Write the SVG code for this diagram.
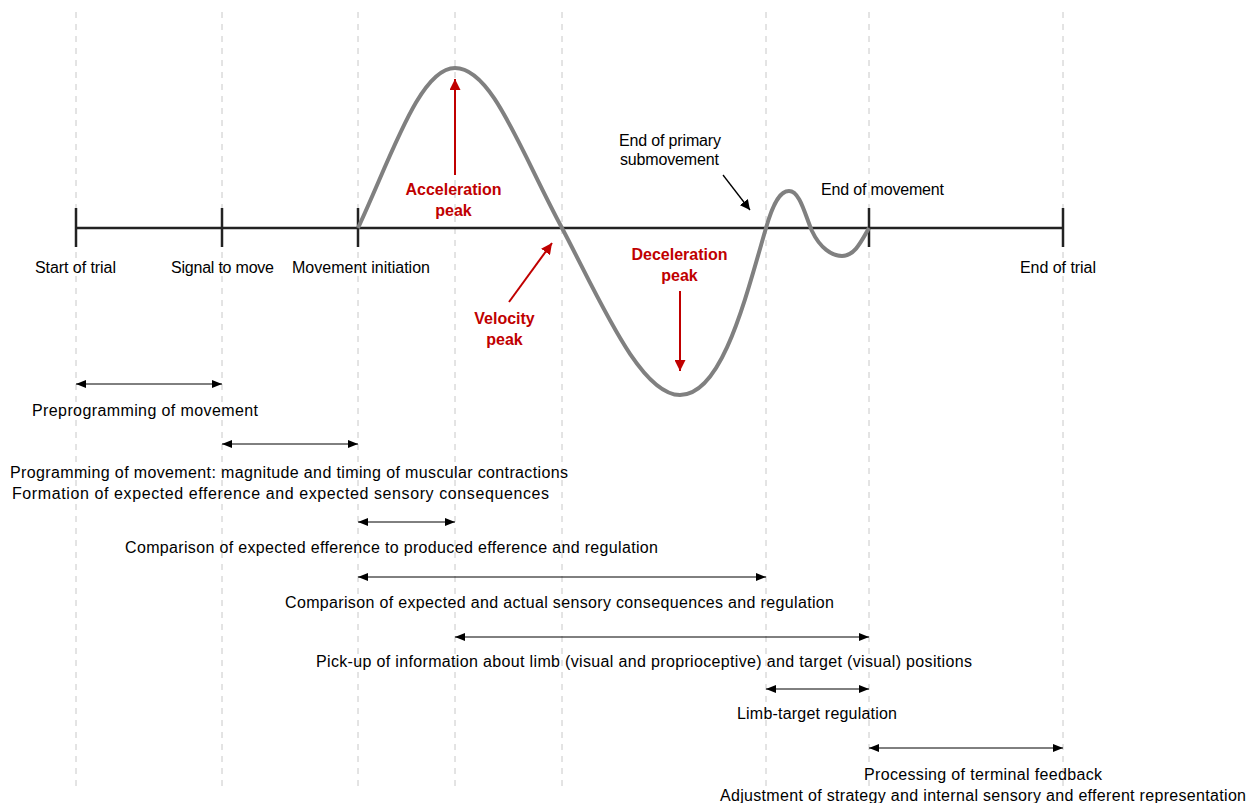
<svg xmlns="http://www.w3.org/2000/svg" width="1260" height="803" viewBox="0 0 1260 803">
<defs>
<marker id="ah" viewBox="0 0 10 10" refX="10" refY="5" markerWidth="10" markerHeight="10" markerUnits="userSpaceOnUse" orient="auto-start-reverse"><path d="M0,1 L10,5 L0,9 Z" fill="#000"/></marker>
<marker id="ar" viewBox="0 0 10 10" refX="10" refY="5" markerWidth="11" markerHeight="11" markerUnits="userSpaceOnUse" orient="auto"><path d="M0,0 L10,5 L0,10 Z" fill="#c00000"/></marker>
<marker id="ak" viewBox="0 0 10 10" refX="10" refY="5" markerWidth="10" markerHeight="10" markerUnits="userSpaceOnUse" orient="auto"><path d="M0,0 L10,5 L0,10 Z" fill="#000"/></marker>
</defs>
<style>
text{font-family:"Liberation Sans",Arial,sans-serif;font-size:16px;fill:#000;text-anchor:middle}
.red{fill:#c00000;font-weight:bold}
.grid{stroke:#c8c8c8;stroke-width:1;stroke-dasharray:6,6}
.range{stroke:#000;stroke-width:1;marker-start:url(#ah);marker-end:url(#ah)}
.tick{stroke:#222;stroke-width:2.5}
</style>
<rect width="1260" height="803" fill="#fff"/>
<g id="gridlines">
<line class="grid" x1="76" y1="12" x2="76" y2="790"/>
<line class="grid" x1="222" y1="12" x2="222" y2="790"/>
<line class="grid" x1="358" y1="12" x2="358" y2="790"/>
<line class="grid" x1="455" y1="12" x2="455" y2="790"/>
<line class="grid" x1="562" y1="12" x2="562" y2="790"/>
<line class="grid" x1="766" y1="12" x2="766" y2="790"/>
<line class="grid" x1="869" y1="12" x2="869" y2="790"/>
<line class="grid" x1="1063" y1="12" x2="1063" y2="790"/>
</g>
<g id="axis">
<line class="tick" x1="76" y1="228" x2="1063" y2="228"/>
<line class="tick" x1="76" y1="208" x2="76" y2="247"/>
<line class="tick" x1="222" y1="208" x2="222" y2="247"/>
<line class="tick" x1="358" y1="208" x2="358" y2="247"/>
<line class="tick" x1="869" y1="208" x2="869" y2="247"/>
<line class="tick" x1="1063" y1="208" x2="1063" y2="247"/>
<text x="75.5" y="273" textLength="81" lengthAdjust="spacing">Start of trial</text>
<text x="222.5" y="273" textLength="103" lengthAdjust="spacing">Signal to move</text>
<text x="361" y="273" textLength="138" lengthAdjust="spacing">Movement initiation</text>
<text x="1058" y="273" textLength="76" lengthAdjust="spacing">End of trial</text>
</g>
<g id="curve">
<path d="M358,228 C392,155 420,68 455,68 C492,68 520,150 562,228 C600,300 640,395 680,395 C722,395 745,300 766,228 C774,200 781,191 789,191 C800,191 805,215 812,231 C820,248 832,256 842,256 C855,256 862,240 869,228" fill="none" stroke="#808080" stroke-width="4"/>
</g>
<g id="annotations">
<line x1="455" y1="175" x2="455" y2="79" stroke="#c00000" stroke-width="2" marker-end="url(#ar)"/>
<text class="red" x="453.5" y="195">Acceleration</text>
<text class="red" x="453.5" y="216">peak</text>
<line x1="509" y1="302" x2="552" y2="243" stroke="#c00000" stroke-width="2" marker-end="url(#ar)"/>
<text class="red" x="504.5" y="324">Velocity</text>
<text class="red" x="504.5" y="345">peak</text>
<line x1="680" y1="291" x2="680" y2="371" stroke="#c00000" stroke-width="2" marker-end="url(#ar)"/>
<text class="red" x="679.5" y="260">Deceleration</text>
<text class="red" x="679.5" y="281">peak</text>
<line x1="723" y1="175" x2="750" y2="210" stroke="#000" stroke-width="1.3" marker-end="url(#ak)"/>
<text x="670" y="146" textLength="102" lengthAdjust="spacing">End of primary</text>
<text x="669.5" y="165" textLength="99" lengthAdjust="spacing">submovement</text>
<text x="882.5" y="195" textLength="123" lengthAdjust="spacing">End of movement</text>
</g>
<g id="connectors">
<line class="range" x1="76" y1="384" x2="222" y2="384"/>
<line class="range" x1="222" y1="444" x2="358" y2="444"/>
<line class="range" x1="358" y1="522" x2="455" y2="522"/>
<line class="range" x1="358" y1="577" x2="766" y2="577"/>
<line class="range" x1="455" y1="637" x2="869" y2="637"/>
<line class="range" x1="766" y1="689" x2="869" y2="689"/>
<line class="range" x1="869" y1="748" x2="1063" y2="748"/>
</g>
<g id="labels">
<text x="145" y="416" textLength="226" lengthAdjust="spacing">Preprogramming of movement</text>
<text x="289" y="478" textLength="558" lengthAdjust="spacing">Programming of movement: magnitude and timing of muscular contractions</text>
<text x="280.5" y="499" textLength="537" lengthAdjust="spacing">Formation of expected efference and expected sensory consequences</text>
<text x="391.5" y="553" textLength="533" lengthAdjust="spacing">Comparison of expected efference to produced efference and regulation</text>
<text x="559.5" y="608" textLength="549" lengthAdjust="spacing">Comparison of expected and actual sensory consequences and regulation</text>
<text x="644" y="667" textLength="656" lengthAdjust="spacing">Pick-up of information about limb (visual and proprioceptive) and target (visual) positions</text>
<text x="817" y="719" textLength="160" lengthAdjust="spacing">Limb-target regulation</text>
<text x="983" y="780" textLength="238" lengthAdjust="spacing">Processing of terminal feedback</text>
<text x="983" y="801" textLength="526" lengthAdjust="spacing">Adjustment of strategy and internal sensory and efferent representation</text>
</g>
</svg>
